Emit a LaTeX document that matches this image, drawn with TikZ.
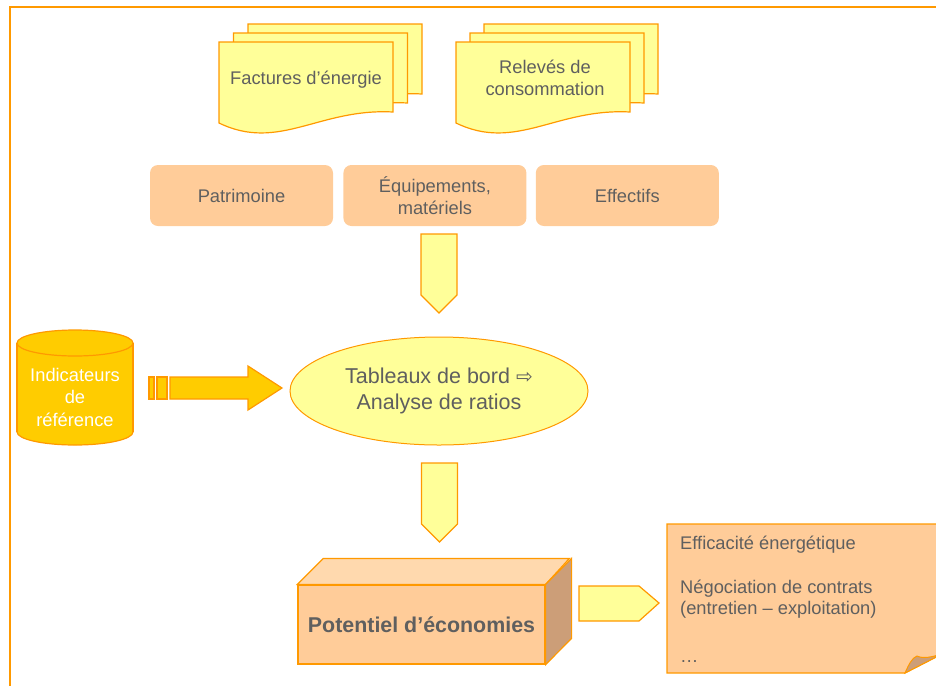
\documentclass[tikz,border=0pt]{standalone}
\usepackage{fontspec}
\setmainfont{Liberation Sans}
\newfontfamily\arrowfont{DejaVu Sans}
\tikzset{>=stealth}
\usetikzlibrary{shapes,positioning}
\definecolor{penColor}{HTML}{FF9900}
\definecolor{paleYellow}{HTML}{FFFF99}
\definecolor{peach}{HTML}{FFCC99}
\definecolor{peachTop}{HTML}{FFD9AE}
\definecolor{peachSide}{HTML}{CC9E78}
\definecolor{gold}{HTML}{FFCC00}
\definecolor{textGray}{HTML}{5F5F5F}
\tikzset{
  docpage/.pic={\filldraw[fill=paleYellow,draw=penColor,line width=1.2pt] (0,0) -- (174,0) -- (174,70) .. controls (100,66) and (60,110) .. (0,81) -- cycle;},
  downarrow/.pic={\filldraw[fill=paleYellow,draw=penColor,line width=1.2pt] (-18,0) -- (18,0) -- (18,61) -- (0,79) -- (-18,61) -- cycle;},
  lbl/.style={text=textGray,align=center,inner sep=0pt,font=\fontsize{18.3}{21.5}\selectfont},
  infobox/.style={lbl,fill=peach,rounded corners=8pt,minimum width=183pt,minimum height=61pt},
}

\begin{document}
\begin{tikzpicture}[x=1pt,y=-1pt]
  \useasboundingbox (0,0) rectangle (936,686);
  \draw[penColor,line width=2pt] (9.5,686) -- (9.5,6.5) -- (936,6.5);% frame

  % stacks of documents
  \foreach \d in {2,1,0} {
    \pic at ({219+14.5*\d},{42-9*\d}) {docpage};
    \pic at ({456+14*\d},{42-9*\d}) {docpage};
  }
  \node[lbl] (fact) at (306,80) {Factures d’énergie};
  \node[lbl] (rel) at (545,78) {Relevés de\\consommation};

  \node[infobox] (patr) at (241.5,195.5) {Patrimoine};
  \node[infobox,right=10pt of patr] (equip) {Équipements,\\matériels};
  \node[infobox,right=9pt of equip] (effec) {Effectifs};

  \pic at (439,234) {downarrow};

  \node[lbl,ellipse,draw=penColor,fill=paleYellow,line width=1pt,minimum width=298pt,minimum height=108pt,
    font=\fontsize{21.5}{26}\selectfont] (tab) at (439,391) {Tableaux de bord {\arrowfont\fontsize{20}{26}\selectfont ⇨}\\Analyse de ratios};

  % database
  \filldraw[fill=gold,draw=penColor,line width=1.2pt] (75,432) ellipse [x radius=58pt,y radius=13pt];
  \fill[gold] (17,343) rectangle (133,432);
  \draw[penColor,line width=1.2pt] (17,343) -- (17,432) (133,343) -- (133,432);
  \filldraw[fill=gold,draw=penColor,line width=1.2pt] (75,343) ellipse [x radius=58pt,y radius=13pt];
  \node[lbl,text=white,font=\fontsize{18.3}{22.5}\selectfont] (ind) at (75,397) {Indicateurs\\de\\référence};

  \begin{scope}[fill=gold,draw=penColor,line width=1.2pt]
    \filldraw (149,377) rectangle (154,399);
    \filldraw (157,377) rectangle (167,399);
    \filldraw (170,377) -- (248,377) -- (248,366) -- (282,388) -- (248,410) -- (248,399) -- (170,399) -- cycle;
  \end{scope}

  \pic at (439.5,463) {downarrow};

  % box
  \node[lbl,draw=penColor,fill=peach,line width=1.2pt,minimum width=247pt,minimum height=79pt,
    font=\bfseries\fontsize{21.4}{26}\selectfont] (pot) at (421.5,624.5) {Potentiel d’économies};
  \filldraw[fill=peachTop,draw=penColor,line width=1.2pt] (pot.north west) -- ++(26,-26) -- ++(246,0) -- (pot.north east) -- cycle;
  \filldraw[fill=peachSide,draw=penColor,line width=1.2pt] (pot.north east) -- ++(26,-26) -- ++(0,80) -- (pot.south east) -- cycle;

  \filldraw[fill=paleYellow,draw=penColor,line width=1.2pt] (579,586) -- (639,586) -- (659,603) -- (639,621) -- (579,621) -- cycle;

  % note
  \filldraw[fill=peach,draw=penColor,line width=1.2pt] (667,524) -- (942,524) -- (942,654) -- (905,673) -- (667,673) -- cycle;
  \filldraw[fill=peachSide,draw=penColor,line width=1pt] (905,673) .. controls (909,664) and (912,658) .. (917,656) .. controls (923,659) and (932,657) .. (942,654) -- cycle;
  \node[lbl,align=left,anchor=north west] (note) at (680,536) {Efficacité énergétique\\[22pt]Négociation de contrats\\(entretien – exploitation)\\[26pt]…};
\end{tikzpicture}
\end{document}
